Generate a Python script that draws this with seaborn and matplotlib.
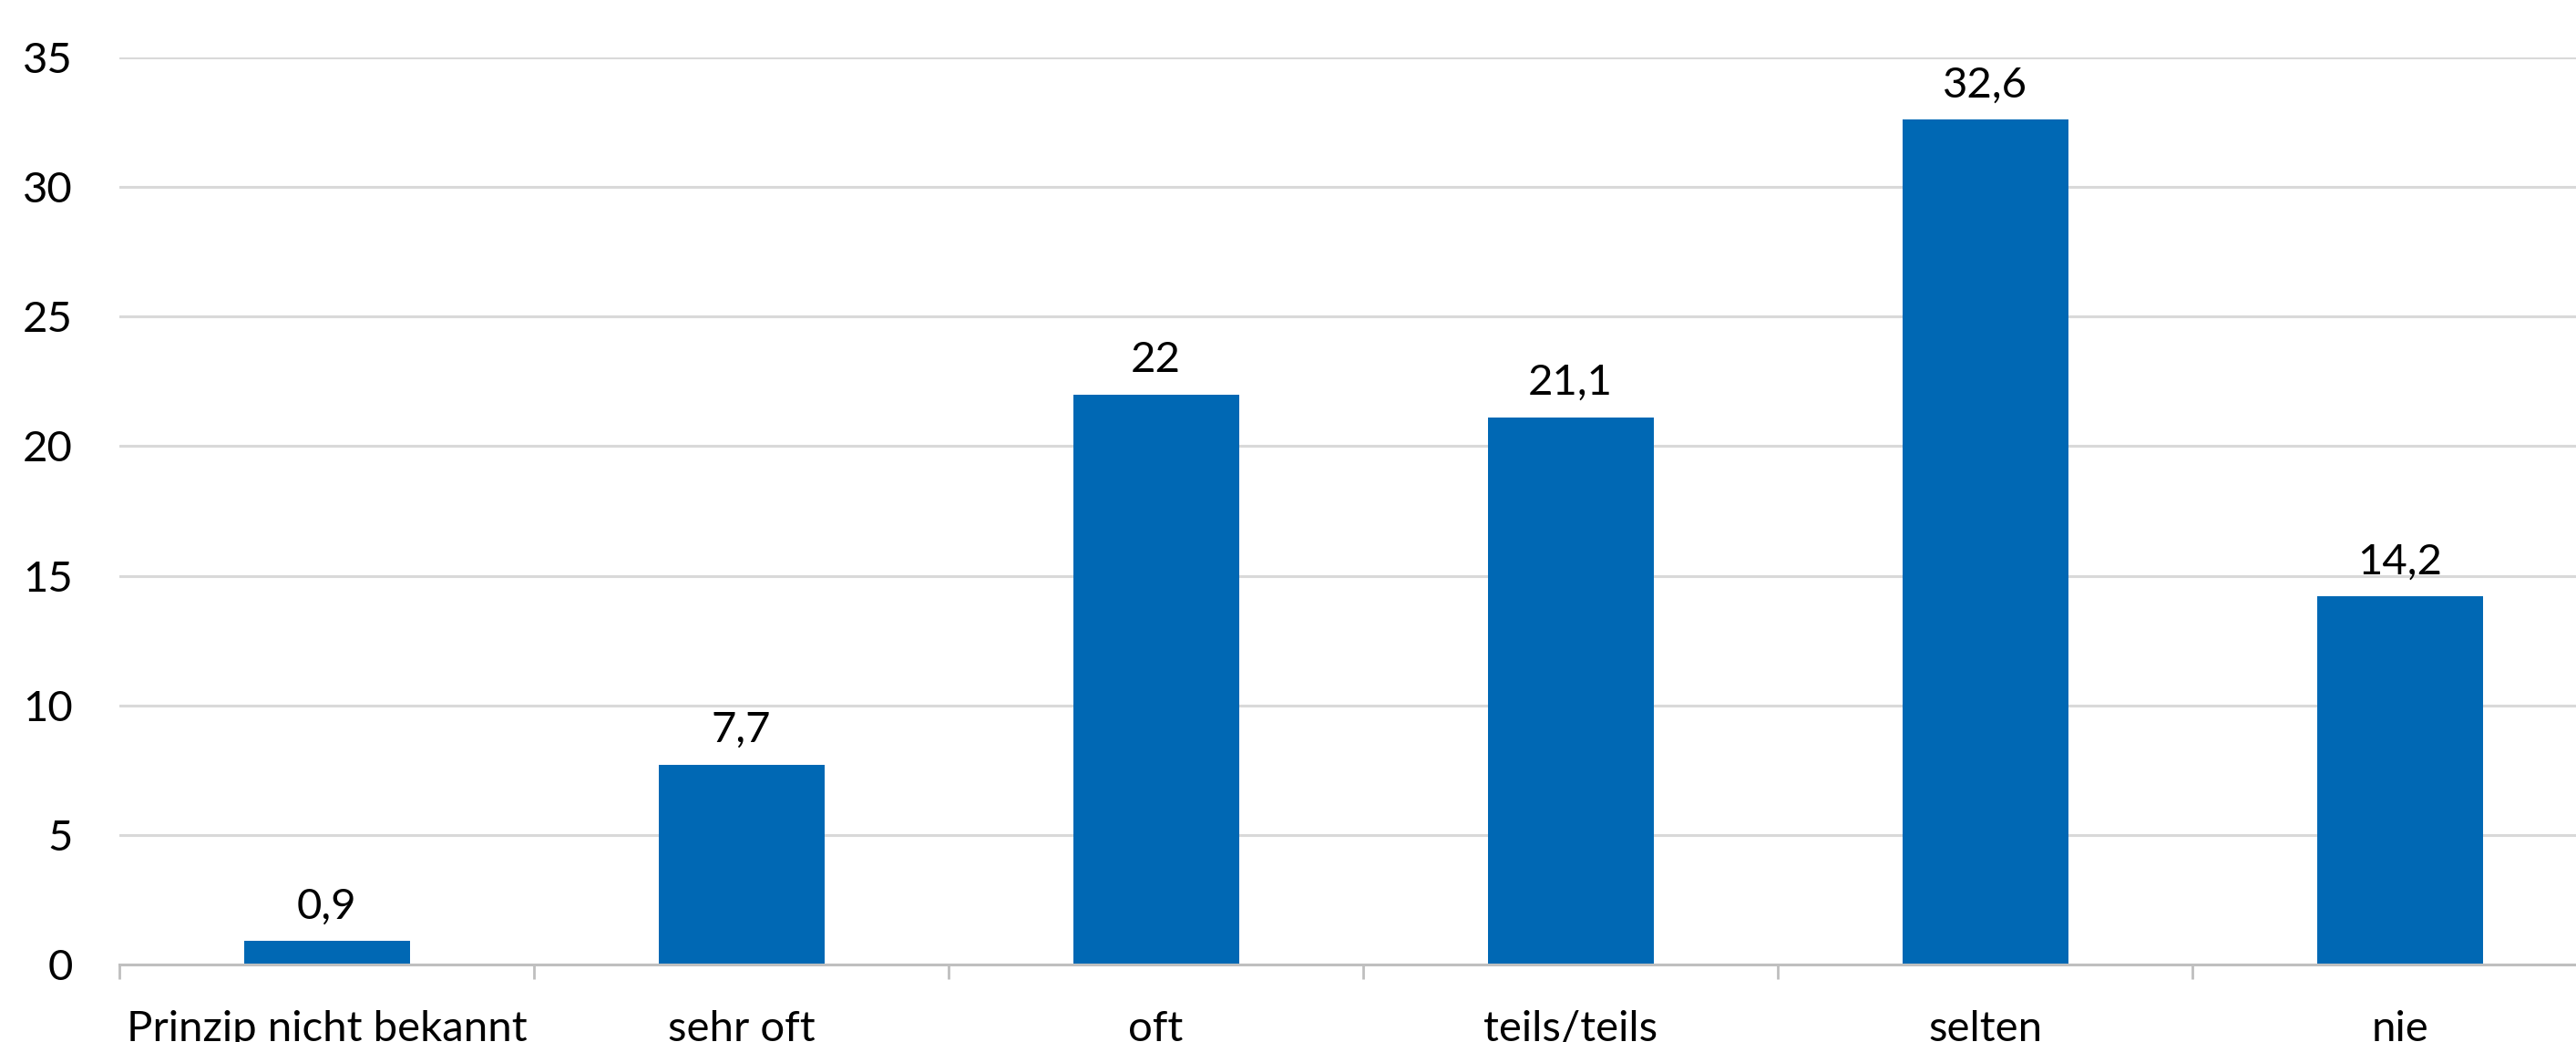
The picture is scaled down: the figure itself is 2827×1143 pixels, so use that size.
import matplotlib
matplotlib.use("Agg")
import matplotlib.pyplot as plt
import seaborn as sns
import pandas as pd
from matplotlib.ticker import FixedLocator

# Survey answers (percent)
categories = ["Prinzip nicht bekannt", "sehr oft", "oft", "teils/teils", "selten", "nie"]
values = [0.9, 7.7, 22.0, 21.1, 32.6, 14.2]
value_labels = ["0,9", "7,7", "22", "21,1", "32,6", "14,2"]
y_ticks = [0, 5, 10, 15, 20, 25, 30, 35]

sns.set_theme(style="white")
plt.rcParams["font.family"] = ["Lato", "DejaVu Sans"]

BAR_COLOR = "#0068B4"
GRID_COLOR = "#D9D9D9"
AXIS_COLOR = "#BFBFBF"
FONT_SIZE = 34

W, H, DPI = 2827, 1143, 100
fig = plt.figure(figsize=(W / DPI, H / DPI), dpi=DPI)
fig.patch.set_facecolor("white")

# plot area; the category axis runs on past the right edge of the figure
ax = fig.add_axes([131 / W, 85 / H, 6 * 455 / W, 995 / H])

df = pd.DataFrame({"Kategorie": categories, "Anteil": values})
sns.barplot(data=df, x="Kategorie", y="Anteil", color=BAR_COLOR,
            saturation=1, width=0.4, edgecolor="none", ax=ax)

ax.set_xlim(-0.5, len(categories) - 0.5)
ax.set_ylim(0, 35)
ax.set_yticks(y_ticks)
ax.set_xlabel("")
ax.set_ylabel("")

# horizontal gridlines behind the bars
ax.set_axisbelow(True)
ax.yaxis.grid(True, color=GRID_COLOR, linewidth=2.2)
ax.xaxis.grid(False)

for side in ("left", "top", "right"):
    ax.spines[side].set_visible(False)
ax.spines["bottom"].set_color(AXIS_COLOR)
ax.spines["bottom"].set_linewidth(2.2)

ax.tick_params(axis="y", length=0, pad=37, labelsize=FONT_SIZE, labelcolor="black")
ax.tick_params(axis="x", which="major", length=0, pad=36, labelsize=FONT_SIZE,
               labelcolor="black")

# separator ticks between categories
ax.xaxis.set_minor_locator(FixedLocator([i - 0.5 for i in range(len(categories) + 1)]))
ax.tick_params(axis="x", which="minor", direction="out", length=11.5, width=2,
               color=AXIS_COLOR, bottom=True)

# value labels above the bars
for i, (v, lab) in enumerate(zip(values, value_labels)):
    ax.annotate(lab, (i, v), xytext=(0, 18), textcoords="offset points",
                ha="center", va="baseline", fontsize=FONT_SIZE, color="black")

fig.savefig("out.png", dpi=DPI, facecolor="white")
